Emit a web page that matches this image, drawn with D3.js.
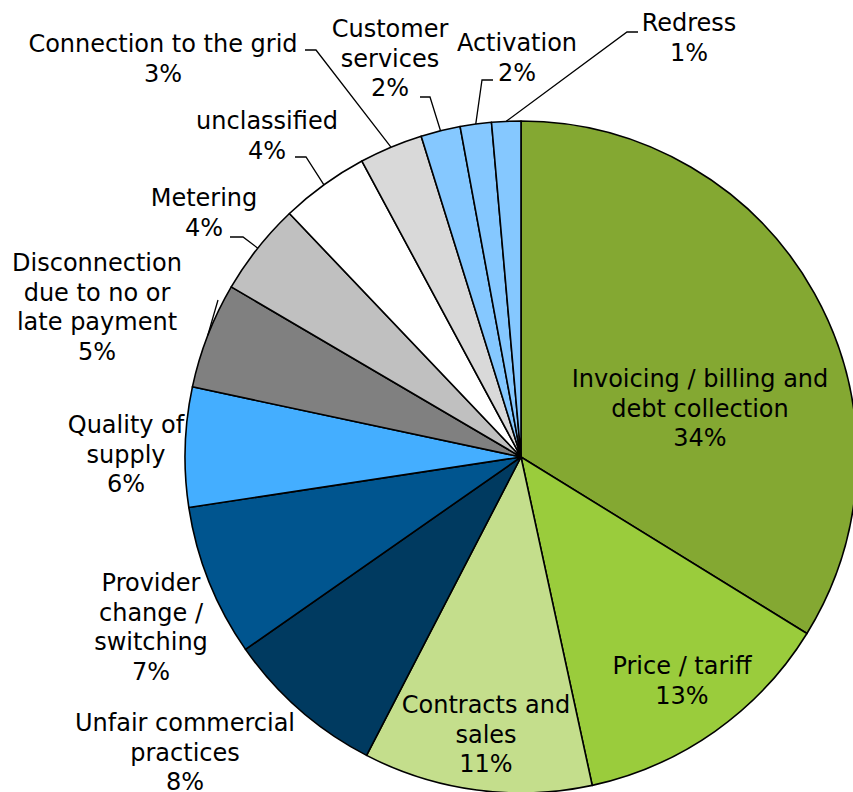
<!DOCTYPE html>
<html>
<head>
<meta charset="utf-8">
<script src="https://cdn.jsdelivr.net/npm/d3@7"></script>
<style>
  body { margin: 0; background: #fff; }
  svg text { font-family: "DejaVu Sans", Verdana, sans-serif; font-size: 24px; fill: #000; }
</style>
</head>
<body>
<svg id="chart" width="853" height="792"></svg>
<script>
// categories, clockwise from 12 o'clock
var categories = [
  "Invoicing / billing and debt collection", "Price / tariff", "Contracts and sales",
  "Unfair commercial practices", "Provider change / switching", "Quality of supply",
  "Disconnection due to no or late payment", "Metering", "unclassified",
  "Connection to the grid", "Customer services", "Activation", "Redress"
];
// share of complaints (%)
var shares = [33.8, 12.8, 11.0, 7.7, 7.3, 5.75, 5.1, 4.45, 4.25, 3.05, 1.9, 1.5, 1.4];

var colors = ["#84a832", "#9acc3c", "#c4de8c", "#003a60", "#00558f", "#44aeff",
  "#808080", "#c0c0c0", "#ffffff", "#d9d9d9", "#85c8ff", "#85c8ff", "#85c8ff"];

// how each label is broken into lines
var labelLines = [
  ["Invoicing / billing and", "debt collection"], ["Price / tariff"], ["Contracts and", "sales"],
  ["Unfair commercial", "practices"], ["Provider", "change /", "switching"], ["Quality of", "supply"],
  ["Disconnection", "due to no or", "late payment"], ["Metering"], ["unclassified"],
  ["Connection to the grid"], ["Customer", "services"], ["Activation"], ["Redress"]
];
// label layout: centre x, first line y, leader elbow and end of leader tail
var labelPos = [
  {x: 700, y: 379}, {x: 682, y: 666}, {x: 486, y: 705},
  {x: 185, y: 723}, {x: 151, y: 583}, {x: 126, y: 425},
  {x: 97, y: 263, elbow: [218, 300]},
  {x: 204, y: 198, elbow: [243, 237], tail: [230, 237]},
  {x: 267, y: 121, elbow: [306, 157], tail: [295, 157]},
  {x: 163, y: 44, elbow: [316, 50], tail: [305, 50]},
  {x: 390, y: 29, elbow: [430, 97], tail: [420, 97]},
  {x: 517, y: 43, elbow: [482, 80], tail: [493, 80]},
  {x: 689, y: 23, elbow: [627, 32], tail: [638, 32]}
];

var svg = d3.select("#chart"),
  cx = 521, cy = 457, r = 336, lineH = 29.5;

var data = categories.map(function (c, i) {
  return {name: c, value: shares[i]};
});
var total = d3.sum(shares);

var pie = d3.pie().sort(null).value(function (d) { return d.value; });
var arc = d3.arc().innerRadius(0).outerRadius(r);
var arcs = pie(data);

var g = svg.append("g").attr("transform", "translate(" + cx + "," + cy + ")");

// leader lines (drawn under the slices so they stop at the rim)
arcs.forEach(function (d) {
  var p = labelPos[d.index];
  if (!p.elbow) return;
  var mid = (d.startAngle + d.endAngle) / 2;
  var edge = [cx + r * Math.sin(mid), cy - r * Math.cos(mid)];
  var pts = [edge, p.elbow];
  if (p.tail) pts.push(p.tail);
  svg.append("path")
    .attr("d", d3.line()(pts))
    .attr("fill", "none")
    .attr("stroke", "#000")
    .attr("stroke-width", 1.3);
});

g.selectAll("path.slice")
  .data(arcs)
  .enter().append("path")
  .attr("class", "slice")
  .attr("d", arc)
  .attr("fill", function (d) { return colors[d.index]; })
  .attr("stroke", "#000")
  .attr("stroke-width", 1.6)
  .attr("stroke-linejoin", "round");

// labels
arcs.forEach(function (d) {
  var p = labelPos[d.index];
  var lines = labelLines[d.index].concat([Math.round(d.value / total * 100) + "%"]);
  var t = svg.append("text")
    .attr("text-anchor", "middle")
    .attr("x", p.x)
    .attr("y", p.y);
  lines.forEach(function (l, k) {
    t.append("tspan")
      .attr("x", p.x)
      .attr("y", p.y + k * lineH)
      .attr("dy", "0.35em")
      .text(l);
  });
});
</script>
</body>
</html>
